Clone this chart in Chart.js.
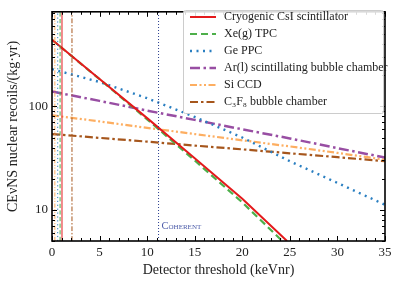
<!DOCTYPE html>
<html>
<head>
<meta charset="utf-8">
<script src="https://cdn.jsdelivr.net/npm/chart.js@4"></script>
<style>
body { margin: 0; background: #fff; }
</style>
</head>
<body>
<canvas id="rates" width="415" height="286"></canvas>
<script>
// values, rates in recoils/(kg yr)
const thresholds = [0, 5, 10, 15, 20, 25, 30, 35];
const csiX = [0, 5, 10, 15, 20, 24.7];
const csiRate = [440, 184, 77, 31.5, 12.8, 5];
const xeX = [0, 5, 10, 15, 20, 24.2];
const xeRate = [440, 183, 75, 30, 11.8, 5];
const geRate = [229, 172, 120, 79, 50, 29.5, 18.2, 11.2];
const arRate = [139, 113, 91, 74, 60, 49, 39.5, 32];
const siRate = [82, 71.5, 62, 54, 47, 41, 35.5, 30.5];
const c3f8Rate = [54, 49.6, 45.6, 41.8, 38.4, 35.2, 32.3, 29.5];

// detector thresholds (vertical lines)
const siThreshold = 0.3;
const geThreshold = 0.6;
const xeThreshold = 0.85;
const csiThreshold = 1.05;
const c3f8Threshold = 2.1;
const coherentThreshold = 11.2;

const yMin = 5, yMax = 820;
const yTicks = [5,6,7,8,9,10,20,30,40,50,60,70,80,90,100,200,300,400,500,600,700,800];
const yLabels = [10, 100];

const serif = "'Liberation Serif', 'DejaVu Serif', serif";

function pts(xs, ys) {
    return xs.map((x, i) => ({x: x, y: ys[i]}));
}
function vline(x) {
    return [{x: x, y: yMin}, {x: x, y: yMax}];
}

const styles = {
    csi:  {color: "#e41a1c", dash: [], width: 2},
    xe:   {color: "#4daf4a", dash: [7, 4], width: 2.2},
    ge:   {color: "#2a7fc1", dash: [2, 4.5], width: 2.4},
    ar:   {color: "#984ea3", dash: [10, 3.5, 2.5, 3.5], width: 2.5},
    si:   {color: "#fdae61", dash: [7, 2.5, 2, 2.5, 2, 2.5], width: 2.2},
    c3f8: {color: "#a6561c", dash: [8, 3, 2.5, 3], width: 2.2}
};

function curve(label, data, s) {
    return {label: label, data: data, borderColor: s.color, borderDash: s.dash,
        borderWidth: s.width, pointRadius: 0, tension: 0, fill: false, clip: 0};
}
function thresholdLine(x, s) {
    return {label: "", data: vline(x), borderColor: s.color, borderDash: s.dash.map(d => d * 0.6),
        borderWidth: 1, pointRadius: 0, fill: false, clip: 0};
}

const datasets = [
    thresholdLine(siThreshold, styles.si),
    thresholdLine(geThreshold, styles.ge),
    thresholdLine(xeThreshold, styles.xe),
    thresholdLine(csiThreshold, styles.csi),
    thresholdLine(c3f8Threshold, styles.c3f8),
    {label: "", data: vline(coherentThreshold), borderColor: "#2b3d8f", borderDash: [1, 2],
        borderWidth: 1, pointRadius: 0, clip: 0},
    curve("Cryogenic CsI scintillator", pts(csiX, csiRate), styles.csi),
    curve("Xe(g) TPC", pts(xeX, xeRate), styles.xe),
    curve("Ge PPC", pts(thresholds, geRate), styles.ge),
    curve("Ar(l) scintillating bubble chamber", pts(thresholds, arRate), styles.ar),
    curve("Si CCD", pts(thresholds, siRate), styles.si),
    curve("C\u2083F\u2088 bubble chamber", pts(thresholds, c3f8Rate), styles.c3f8)
];

// inward ticks on all four sides plus the black frame
const frameTicks = {
    id: "frameTicks",
    afterDatasetsDraw(chart) {
        const {ctx, chartArea: a, scales: {x, y}} = chart;
        ctx.save();
        ctx.strokeStyle = "#000";
        ctx.lineWidth = 1;
        ctx.setLineDash([]);
        ctx.beginPath();
        x.ticks.forEach(t => {
            let px = Math.round(x.getPixelForValue(t.value)) + 0.5;
            let len = t.value % 5 === 0 ? 5 : 3;
            ctx.moveTo(px, a.bottom); ctx.lineTo(px, a.bottom - len);
            ctx.moveTo(px, a.top); ctx.lineTo(px, a.top + len);
        });
        y.ticks.forEach(t => {
            let py = Math.round(y.getPixelForValue(t.value)) + 0.5;
            let len = yLabels.includes(t.value) ? 5 : 3;
            ctx.moveTo(a.left, py); ctx.lineTo(a.left + len, py);
            ctx.moveTo(a.right, py); ctx.lineTo(a.right - len, py);
        });
        ctx.stroke();
        ctx.lineWidth = 1.6;
        ctx.strokeRect(a.left, a.top, a.right - a.left, a.bottom - a.top);

        // COHERENT label next to its threshold line
        ctx.fillStyle = "#4a5aa8";
        ctx.font = "small-caps 10.5px " + serif;
        ctx.textBaseline = "alphabetic";
        ctx.fillText("Coherent", x.getPixelForValue(coherentThreshold) + 3, y.getPixelForValue(6.6));
        ctx.restore();
    }
};

const boxLegend = {
    id: "boxLegend",
    afterDraw(chart) {
        const ctx = chart.ctx;
        ctx.save();
        ctx.fillStyle = "rgba(255,255,255,0.85)";
        ctx.strokeStyle = "#cccccc";
        ctx.lineWidth = 1;
        ctx.beginPath();
        ctx.roundRect(183.5, 10.5, 200, 103, 2);
        ctx.fill();
        ctx.stroke();
        ctx.font = "12px " + serif;
        ctx.textBaseline = "middle";
        chart.data.datasets.filter(d => d.label).forEach((d, i) => {
            let yy = 17 + i * 17;
            ctx.strokeStyle = d.borderColor;
            ctx.lineWidth = d.borderWidth;
            ctx.setLineDash(d.borderDash);
            ctx.beginPath();
            ctx.moveTo(190, yy);
            ctx.lineTo(216, yy);
            ctx.stroke();
            ctx.fillStyle = "#222";
            ctx.fillText(d.label, 224, yy);
        });
        ctx.restore();
    }
};

new Chart(document.getElementById("rates"), {
    type: "line",
    data: {datasets: datasets},
    plugins: [frameTicks, boxLegend],
    options: {
        responsive: false,
        animation: false,
        devicePixelRatio: 1,
        layout: {padding: {left: 0, right: 30, top: 9, bottom: 0}},
        plugins: {legend: {display: false}, tooltip: {enabled: false}},
        scales: {
            x: {
                type: "linear",
                min: 0, max: 35,
                afterFit: s => { s.height = 45; },
                grid: {display: false, drawTicks: false},
                border: {display: false},
                ticks: {
                    stepSize: 1, autoSkip: false, maxRotation: 0, padding: 4,
                    color: "#222", font: {family: serif, size: 13},
                    callback: v => v % 5 === 0 ? String(v) : ""
                },
                title: {display: true, text: "Detector threshold (keVnr)", color: "#222",
                    font: {family: serif, size: 14}, padding: {top: 0, bottom: 7}}
            },
            y: {
                type: "logarithmic",
                min: yMin, max: yMax,
                afterFit: s => { s.width = 52; },
                afterBuildTicks: s => { s.ticks = yTicks.map(v => ({value: v})); },
                grid: {display: false, drawTicks: false},
                border: {display: false},
                ticks: {
                    autoSkip: false, padding: 4,
                    color: "#222", font: {family: serif, size: 13},
                    callback: v => yLabels.includes(v) ? String(v) : ""
                },
                title: {display: true, text: "CE\u03bdNS nuclear recoils/(kg\u00b7yr)", color: "#222",
                    font: {family: serif, size: 14}, padding: {top: 5, bottom: 0}}
            }
        }
    }
});
</script>
</body>
</html>
